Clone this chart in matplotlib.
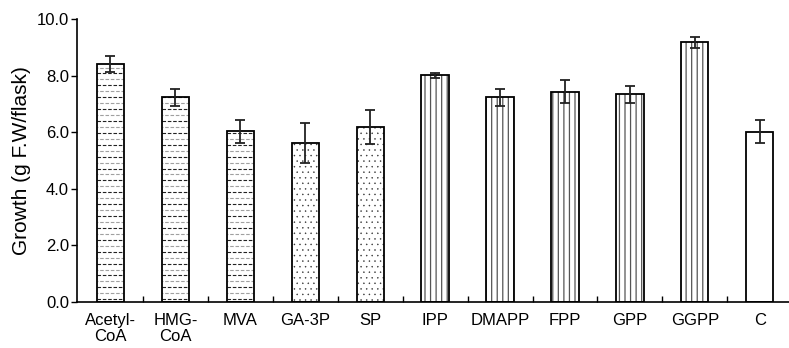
"""Growth of cultures fed with pathway intermediates (bar chart with error bars)."""
import matplotlib

matplotlib.use("Agg")
import matplotlib.pyplot as plt
import numpy as np

plt.rcParams["font.family"] = ["Liberation Sans", "DejaVu Sans"]

LABELS = ["Acetyl-\nCoA", "HMG-\nCoA", "MVA", "GA-3P", "SP", "IPP",
          "DMAPP", "FPP", "GPP", "GGPP", "C"]
GROWTH = [8.41, 7.24, 6.03, 5.62, 6.18, 8.01, 7.24, 7.44, 7.35, 9.18, 6.02]
ERRORS = [0.28, 0.30, 0.40, 0.72, 0.60, 0.10, 0.30, 0.40, 0.30, 0.20, 0.40]
# fill texture per bar: dashed rows, dots, vertical lines, plain
FILLS = ["dash", "dash", "dash", "dot", "dot", "vline", "vline", "vline",
         "vline", "vline", "none"]

x = np.arange(len(LABELS))
width = 0.42

fig = plt.figure(figsize=(7.89, 3.48), dpi=100)
ax = fig.add_axes([0.098, 0.132, 0.902, 0.813])
ax.set_xlim(-0.51, 10.45)
ax.set_ylim(0, 10)

for xi, val, kind in zip(x, GROWTH, FILLS):
    if kind == "vline":
        with plt.rc_context({"hatch.linewidth": 0.9, "hatch.color": "#555555"}):
            ax.bar(xi, val, width, color="white", edgecolor="#555555",
                   linewidth=0, hatch="|||", zorder=2)
    elif kind == "dot":
        with plt.rc_context({"hatch.linewidth": 0.3, "hatch.color": "#333333"}):
            ax.bar(xi, val, width, color="white", edgecolor="#333333",
                   linewidth=0, hatch="...", zorder=2)
    elif kind == "dash":
        rect = ax.bar(xi, val, width, color="white", linewidth=0, zorder=2)[0]
        rows = np.arange(0.1, val, 0.21)
        for j, yr in enumerate(rows):
            col = "#222222" if j % 2 == 0 else "#a0a0a0"
            ln, = ax.plot([xi - width / 2, xi + width / 2], [yr, yr], color=col,
                          lw=0.8, zorder=2.5)
            ln.set_linestyle((0 if j % 2 == 0 else 2.4, (3.2, 1.6)))
            ln.set_clip_path(rect)
    else:
        ax.bar(xi, val, width, color="white", linewidth=0, zorder=2)

ax.bar(x, GROWTH, width, fill=False, edgecolor="black", linewidth=1.3, zorder=3)
ax.errorbar(x, GROWTH, yerr=ERRORS, fmt="none", ecolor="#222222",
            elinewidth=1.3, capsize=3.5, capthick=1.3, zorder=4)

ax.set_yticks(np.arange(0, 10.1, 2))
ax.set_yticklabels([f"{v:.1f}" for v in np.arange(0, 10.1, 2)], fontsize=12)
ax.set_xticks(x)
ax.set_xticklabels(LABELS, fontsize=12, linespacing=1.1)
ax.set_xticks(x[:-1] + 0.5, minor=True)
ax.tick_params(axis="x", which="major", length=0, pad=8)
ax.tick_params(axis="x", which="minor", direction="in", length=4, width=1)
ax.tick_params(axis="y", direction="out", length=4, width=1, pad=2)
ax.set_ylabel("Growth (g F.W/flask)", fontsize=15, labelpad=4)

for side in ("top", "right"):
    ax.spines[side].set_visible(False)
for side in ("left", "bottom"):
    ax.spines[side].set_linewidth(1.2)

fig.savefig("out.png", dpi=100)
